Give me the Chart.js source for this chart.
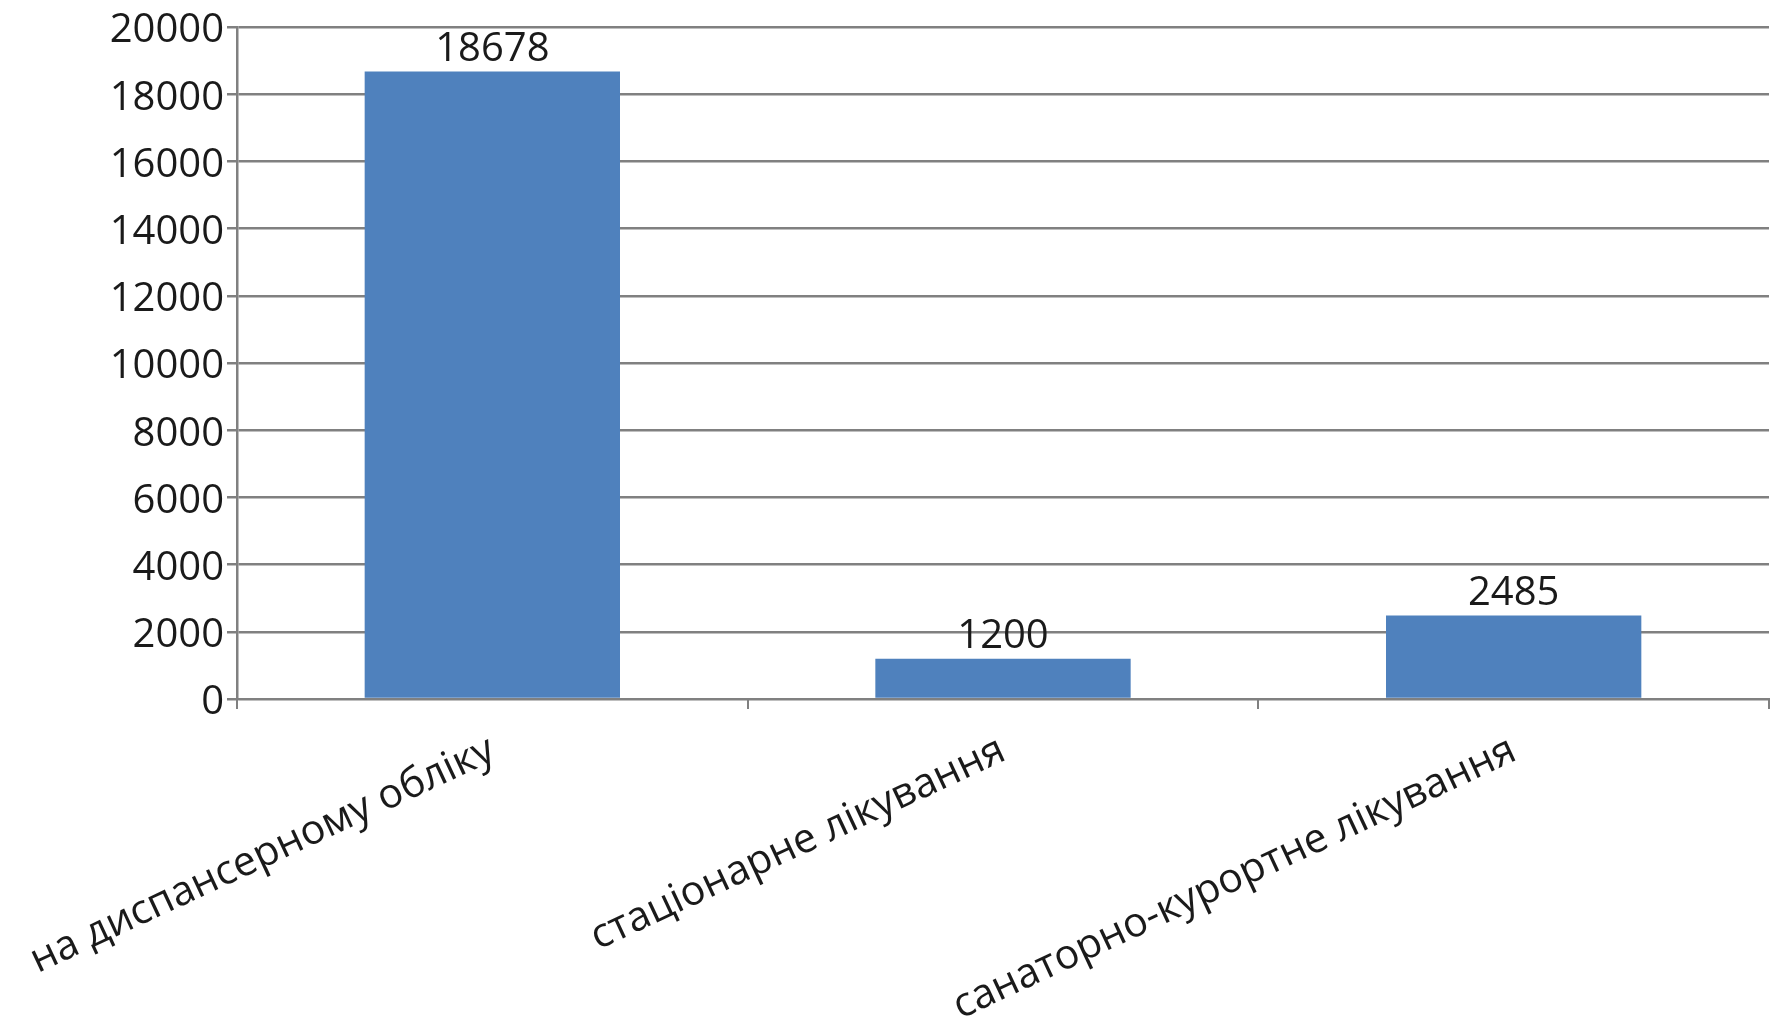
<!DOCTYPE html>
<html lang="uk">
<head>
<meta charset="UTF-8">
<title>Chart</title>
<script src="https://cdn.jsdelivr.net/npm/chart.js@4"></script>
<style>
  html, body { margin: 0; padding: 0; background: #fff; }
  #wrap { width: 1772px; height: 1016px; position: relative; }
</style>
</head>
<body>
<div id="wrap"><canvas id="barChart"></canvas></div>
<script>
// data
const categories = ['на диспансерному обліку', 'стаціонарне лікування', 'санаторно-курортне лікування'];
const values = [18678, 1200, 2485];
const yMin = 0;
const yMax = 20000;
const yStep = 2000;

const barColor = '#4F81BD';
const gridColor = '#808080';
const textColor = '#1a1a1a';
const fontFamily = '"Open Sans", "DejaVu Sans", sans-serif';

// simple value labels above each bar
const valueLabels = {
    id: 'valueLabels',
    afterDatasetsDraw(chart) {
        const ctx = chart.ctx;
        const meta = chart.getDatasetMeta(0);
        ctx.save();
        ctx.font = '40px ' + fontFamily;
        ctx.fillStyle = textColor;
        ctx.textAlign = 'center';
        ctx.textBaseline = 'bottom';
        meta.data.forEach((bar, i) => {
            ctx.fillText(String(values[i]), bar.x, bar.y - 2);
        });
        ctx.restore();
    }
};

const ctx = document.getElementById('barChart').getContext('2d');
new Chart(ctx, {
    type: 'bar',
    data: {
        labels: categories,
        datasets: [{
            data: values,
            backgroundColor: barColor,
            borderWidth: 0,
            categoryPercentage: 1.0,
            barPercentage: 0.5
        }]
    },
    options: {
        responsive: true,
        maintainAspectRatio: false,
        animation: false,
        layout: { padding: { top: 27, right: 3, left: 0, bottom: 0 } },
        plugins: {
            legend: { display: false },
            tooltip: { enabled: false }
        },
        scales: {
            x: {
                offset: true,
                grid: {
                    display: true,
                    offset: true,
                    drawOnChartArea: false,
                    drawTicks: true,
                    tickLength: 10,
                    color: gridColor,
                    lineWidth: 2
                },
                border: { color: gridColor, width: 2 },
                ticks: {
                    color: textColor,
                    font: { family: fontFamily, size: 41 },
                    minRotation: 25,
                    maxRotation: 25,
                    autoSkip: false,
                    padding: 17
                },
                afterFit(scale) {
                    scale.height = 317;
                    // rotated labels may hang past the plot edges, that's fine
                    scale.paddingLeft = 0;
                    scale.paddingRight = 0;
                }
            },
            y: {
                min: yMin,
                max: yMax,
                grid: {
                    color: gridColor,
                    lineWidth: 2.5,
                    tickLength: 10
                },
                border: { color: gridColor, width: 2.5 },
                ticks: {
                    stepSize: yStep,
                    color: textColor,
                    font: { family: fontFamily, size: 40 },
                    padding: 3,
                    labelOffset: 4,
                    callback: (v) => String(v)
                },
                afterFit(scale) { scale.width = 237; }
            }
        }
    },
    plugins: [valueLabels]
});
</script>
</body>
</html>
